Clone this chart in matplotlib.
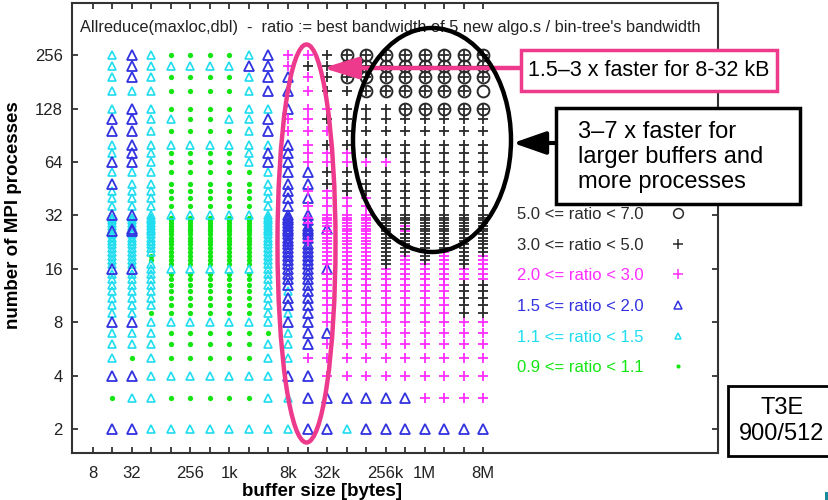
import matplotlib
matplotlib.use('Agg')
import matplotlib.pyplot as plt
from matplotlib.patches import Ellipse, Rectangle
from matplotlib.lines import Line2D

plt.rcParams['font.family'] = ['Liberation Sans', 'DejaVu Sans']

# buffer sizes in bytes (one column each)
sizes = [16, 32, 64, 128, 256, 512, 1024, 2048, 4096, 8192, 16384, 32768, 65536,
         131072, 262144, 524288, 1048576, 2097152, 4194304, 8388608]

# number of MPI processes (one row each, top to bottom)
procs = [256, 224, 192, 160, 128, 112, 96, 80, 72, 64, 56, 48, 44, 40, 36, 32,
         31, 30, 29, 28, 27, 26, 25, 24, 23, 22, 21, 20, 19, 18, 17, 16,
         15, 14, 13, 12, 11, 10, 9, 8, 7, 6, 5, 4, 3, 2]

# ratio class per cell: g 0.9-1.1, c 1.1-1.5, b 1.5-2, m 2-3, k 3-5, o 5-7, O = runs in both k and o
grid = [
    "cbcggggcbmmkOOOOOOOO",  # 256
    "cbcccccbbmkkOOOOOOOO",  # 224
    "cbcggggcbbmkOOOOOOOO",  # 192
    "cccggggcbbmkkOOOOOOo",  # 160
    "cbcggggccbmmkkkOOOOO",  # 128
    "bbccggccbmmkkkkkkkkk",  # 112
    "bbcggggcbmmmkkkkkkkk",  # 96
    "cbcccccccbmkkkkkkkkk",  # 80
    "cbcggggcbbmmmkkkkkkk",  # 72
    "bbcggggcbbmmmmmkkkkk",  # 64
    "cccgggggcbbkkkkkkkkk",  # 56
    "bccgggggcbbkkkkkkkkk",  # 48
    "cccgggggcbmmkkkkkkkk",  # 44
    "cccgggggcbbmmmkkkkkk",  # 40
    "cccgggggcbmmmmkkkkkk",  # 36
    "bbcccccccbbmmmkkkkkk",  # 32
    "cccgggggcbmmmmkkkkkk",  # 31
    "cccgggggcbbmmmkkkkkk",  # 30
    "cccgggggcbmmmmkkkkkk",  # 29
    "cccgggggcbbmmmkmkkkk",  # 28
    "cbcgggggcbbbmmkkkkkk",  # 27
    "bbcgggggcbbmmmkmkkkk",  # 26
    "cccgggggcbbmmmkkkkkk",  # 25
    "cccgggggcbbmmmkkkkkk",  # 24
    "cccgggggcbmmmmkkkkkk",  # 23
    "cccgggggcbbmmmkkkkkk",  # 22
    "cccgggggcbbmmmkkkkkk",  # 21
    "cccgggggcbbmmmkkkmkk",  # 20
    "ccggggggcbbmmmkmkmkm",  # 19
    "ccggggggcbbmmmkmkmkm",  # 18
    "cccgggggcbbmmmkmmmkm",  # 17
    "bbcccccccbbbmmmmmmmm",  # 16
    "cccgggggcbbmmmmmmmmm",  # 15
    "cccgggggcbbmmmmmmmmm",  # 14
    "cccgggggcbbmmmmmmmkk",  # 13
    "cccgggggccbmmmmmmmkk",  # 12
    "cccgggggcbbmmmmmmmkk",  # 11
    "cccgggggcbbmmmmmmmkk",  # 10
    "ccggggggccbmmmmmmmkk",  # 9
    "bbcccccccbbmmmmmmmmm",  # 8
    "cccggggggcbbmmmmmmmm",  # 7
    "cccgggggccbmmmmmmmmm",  # 6
    "cgcgggggccmmmmmmmmmm",  # 5
    "bbcccccccbbmmmmmmmmm",  # 4
    "gccgggggccbbbbbbmmmm",  # 3
    "bbccccccccbbcbbbbbbb",  # 2
]

xtick_vals = [8, 16, 32, 64, 128, 256, 512, 1024, 2048, 4096, 8192, 16384, 32768,
              65536, 131072, 262144, 524288, 1048576, 2097152, 4194304, 8388608]
xtick_labels = ['8', '', '32', '', '', '256', '', '1k', '', '', '8k', '', '32k',
                '', '', '256k', '', '1M', '', '', '8M']
ytick_vals = [2, 4, 8, 16, 32, 64, 128, 256]

class_order = ['o', 'k', 'm', 'b', 'c', 'g']
class_labels = ['5.0 <= ratio < 7.0', '3.0 <= ratio < 5.0', '2.0 <= ratio < 3.0',
                '1.5 <= ratio < 2.0', '1.1 <= ratio < 1.5', '0.9 <= ratio < 1.1']

styles = {
    'g': dict(marker='o', color='#14e614', ms=3.8, mew=0, fillstyle='full'),
    'c': dict(marker='^', color='#1fdcef', ms=6.3, mew=1.2, fillstyle='none'),
    'b': dict(marker='^', color='#3232e0', ms=6.8, mew=1.3, fillstyle='none'),
    'm': dict(marker='+', color='#ff2cff', ms=7.5, mew=1.3, fillstyle='none'),
    'k': dict(marker='+', color='#2a2a2a', ms=7.5, mew=1.3, fillstyle='none'),
    'o': dict(marker='o', color='#2a2a2a', ms=8.5, mew=1.4, fillstyle='none'),
}
legend_ms = {'o': 7, 'k': 7, 'm': 7, 'b': 5.5, 'c': 4.5, 'g': 3}
label_colors = ['#2a2a2a', '#2a2a2a', '#ff2cff', '#3232e0', '#1fdcef', '#14e614']

W, H = 829, 500
pink = '#ee3a8c'

fig = plt.figure(figsize=(W / 100, H / 100), dpi=100)
ax = fig.add_axes([72 / W, 47 / H, 646 / W, 450 / H])
ax.set_xscale('log', base=2)
ax.set_yscale('log', base=2)

# collect points per class
pts = {k: ([], []) for k in styles}
for p, row in zip(procs, grid):
    for s, code in zip(sizes, row):
        codes = ['k', 'o'] if code == 'O' else [code]
        for c in codes:
            pts[c][0].append(s)
            pts[c][1].append(p)

for c in ['g', 'c', 'b', 'm', 'k', 'o']:
    st = styles[c]
    ax.plot(pts[c][0], pts[c][1], linestyle='none', marker=st['marker'],
            color=st['color'], markersize=st['ms'], markeredgewidth=st['mew'],
            fillstyle=st['fillstyle'])

ax.set_xlim(2 ** 1.94, 2 ** 35.02)
ax.set_ylim(2 ** 0.551, 2 ** 8.978)
ax.minorticks_off()
ax.set_xticks(xtick_vals)
ax.set_xticklabels(xtick_labels)
ax.set_yticks(ytick_vals)
ax.set_yticklabels([str(v) for v in ytick_vals])
ax.tick_params(axis='x', direction='in', length=4.5, width=1.2, top=True,
               labelsize=12, pad=9, colors='#222222')
ax.tick_params(axis='y', direction='in', length=4.5, width=1.2, right=True,
               labelsize=12, pad=6.5, colors='#222222')
for sp in ax.spines.values():
    sp.set_linewidth(1.5)
    sp.set_color('#333333')

ax.text(0.012, 0.945, "Allreduce(maxloc,dbl)  -  ratio := best bandwidth of 5 new algo.s / bin-tree's bandwidth",
        transform=ax.transAxes, fontsize=11.8, color='#222222', va='center', ha='left')

ax.set_xlabel('buffer size [bytes]', fontsize=13.5, fontweight='bold')
ax.xaxis.set_label_coords((322 - 72) / 646, (453 - 483) / 450)
ax.set_ylabel('number of MPI processes', fontsize=13.5, fontweight='bold')
ax.yaxis.set_label_coords((22 - 72) / 646, (453 - 215) / 450)

# legend
handles = []
for c in class_order:
    st = styles[c]
    handles.append(Line2D([], [], linestyle='none', marker=st['marker'], color=st['color'],
                          markersize=legend_ms[c], markeredgewidth=1.1 if c != 'g' else 0,
                          fillstyle=st['fillstyle']))
leg = ax.legend(handles, class_labels, loc='upper left', bbox_to_anchor=(517 / W, 1 - 207 / H),
                bbox_transform=fig.transFigure, frameon=False, fontsize=12,
                markerfirst=False, handlelength=1.0, handletextpad=1.55,
                labelspacing=0.94, borderpad=0, borderaxespad=0, labelcolor=label_colors)


def fx(x):
    return x / W


def fy(y):
    return 1 - y / H


# annotations drawn on top of the figure (pixel positions from the top-left)
fig.add_artist(Ellipse((fx(306.5), fy(243.5)), 58 / W, 398 / H, transform=fig.transFigure,
                       fill=False, ec=pink, lw=3.2, zorder=3))
fig.add_artist(Ellipse((fx(432), fy(140)), 158 / W, 224 / H, transform=fig.transFigure,
                       fill=False, ec='black', lw=3.2, zorder=3))

fig.add_artist(Rectangle((fx(521), fy(91)), 256 / W, 41 / H, transform=fig.transFigure,
                         fc='white', ec=pink, lw=2.5, zorder=4))
fig.text(fx(649), fy(71), '1.5–3 x faster for 8-32 kB', ha='center', va='center',
         fontsize=15.5, color='black', zorder=5)
ax.annotate('', xy=(323, H - 68), xytext=(521, H - 68), xycoords='figure pixels',
            textcoords='figure pixels', annotation_clip=False,
            arrowprops=dict(arrowstyle='-|>,head_length=2.1,head_width=0.65', lw=3.2,
                            color=pink, shrinkA=0, shrinkB=0))

fig.add_artist(Rectangle((fx(556), fy(204)), 244 / W, 96 / H, transform=fig.transFigure,
                         fc='white', ec='black', lw=2.5, zorder=4))
fig.text(fx(578), fy(157), '3–7 x faster for\nlarger buffers and\nmore processes',
         ha='left', va='center', fontsize=17, linespacing=1.15, zorder=5)
ax.annotate('', xy=(513, H - 143), xytext=(557, H - 143), xycoords='figure pixels',
            textcoords='figure pixels', annotation_clip=False,
            arrowprops=dict(arrowstyle='-|>,head_length=2.0,head_width=0.7', lw=3,
                            color='black', shrinkA=0, shrinkB=0))

fig.add_artist(Rectangle((fx(728), fy(456)), 110 / W, 70 / H, transform=fig.transFigure,
                         fc='white', ec='black', lw=2, zorder=4))
fig.text(fx(782), fy(421), 'T3E\n900/512', ha='center', va='center', fontsize=17,
         linespacing=1.25, zorder=5)
fig.add_artist(Rectangle((fx(825), fy(500)), 4 / W, 8 / H, transform=fig.transFigure,
                         fc='#1a8a9a', ec='none', zorder=4))

fig.savefig('out.png', dpi=100)
